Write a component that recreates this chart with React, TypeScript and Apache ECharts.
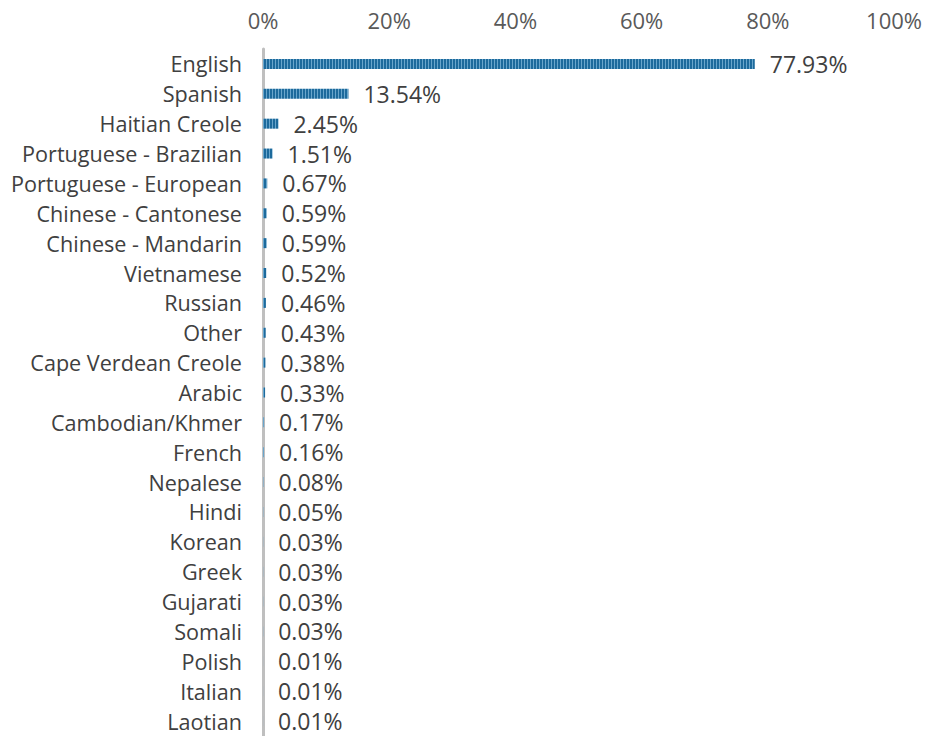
import React, { useEffect, useRef } from "react";
import * as echarts from "echarts";

const categories = [
  "English", "Spanish", "Haitian Creole", "Portuguese - Brazilian", "Portuguese - European",
  "Chinese - Cantonese", "Chinese - Mandarin", "Vietnamese", "Russian", "Other",
  "Cape Verdean Creole", "Arabic", "Cambodian/Khmer", "French", "Nepalese", "Hindi",
  "Korean", "Greek", "Gujarati", "Somali", "Polish", "Italian", "Laotian",
];
const values = [
  77.93, 13.54, 2.45, 1.51, 0.67, 0.59, 0.59, 0.52, 0.46, 0.43, 0.38, 0.33, 0.17, 0.16,
  0.08, 0.05, 0.03, 0.03, 0.03, 0.03, 0.01, 0.01, 0.01,
];
const xTicks = [0, 20, 40, 60, 80, 100];

function makePattern(): HTMLCanvasElement {
  const c = document.createElement("canvas");
  c.width = 3;
  c.height = 10;
  const ctx = c.getContext("2d")!;
  ctx.fillStyle = "#1d6a9c";
  ctx.fillRect(0, 0, 3, 10);
  ctx.fillStyle = "#6aa6cc";
  ctx.fillRect(2, 0, 1, 10);
  return c;
}

export default function App() {
  const ref = useRef<HTMLDivElement>(null);
  useEffect(() => {
    if (!ref.current) return;
    const chart = echarts.init(ref.current, undefined, { renderer: "svg" });
    const font = "'Open Sans', sans-serif";
    chart.setOption({
      animation: false,
      grid: { left: 263, right: 29, top: 49, height: 691, containLabel: false },
      xAxis: {
        type: "value",
        position: "top",
        min: 0,
        max: 100,
        interval: 20,
        axisLine: { show: false },
        axisTick: { show: false },
        splitLine: { show: false },
        axisLabel: {
          formatter: (v: number) => (xTicks.includes(v) ? v + "%" : ""),
          color: "#595959",
          fontSize: 22,
          fontFamily: font,
          margin: 18,
        },
      },
      yAxis: {
        type: "category",
        inverse: true,
        data: categories,
        axisLine: { show: true, lineStyle: { color: "#bfbfbf", width: 3 } },
        axisTick: { show: false },
        axisLabel: {
          color: "#404040",
          fontSize: 21.6,
          fontFamily: font,
          margin: 21,
        },
      },
      series: [
        {
          type: "bar",
          data: values,
          barWidth: 10,
          itemStyle: { color: { image: makePattern(), repeat: "repeat" } },
          label: {
            show: true,
            position: "right",
            distance: 15,
            formatter: (p: any) => p.value.toFixed(2) + "%",
            color: "#404040",
            fontSize: 23,
            fontFamily: font,
          },
        },
      ],
    });
    return () => chart.dispose();
  }, []);
  return <div ref={ref} style={{ width: 925, height: 736, position: "absolute", left: 0, top: 0 }} />;
}
